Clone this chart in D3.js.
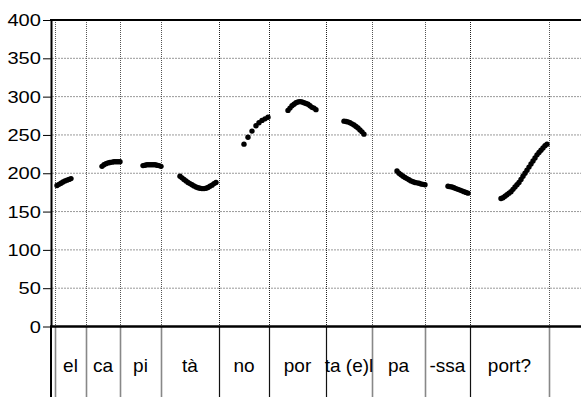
<!DOCTYPE html>
<html lang="en">
<head>
<meta charset="utf-8">
<style>
  body { margin: 0; background: #fff; }
  text { font-family: "Liberation Sans", Arial, sans-serif; fill: #000; }
</style>
</head>
<body>
<script src="https://d3js.org/d3.v7.min.js"></script>
<script>
    var width = 581, height = 397;

    // pitch track (Hz) per syllable, time in ms
    var elF0 = [[25, 184], [35, 185.5], [45, 187], [55, 188.5], [65, 190], [75, 191], [85, 192], [95, 193]];
    var caF0 = [[250, 209], [260, 211], [270, 212.5], [280, 213.5], [290, 214], [300, 214.5], [310, 215], [320, 215], [330, 215], [340, 215]];
    var piF0 = [[455, 210], [465, 210.5], [475, 211], [485, 211], [495, 211], [505, 211], [515, 211], [525, 210.5], [535, 210], [545, 209]];
    var taF0 = [[640, 196], [650, 194], [660, 192], [670, 190], [680, 188], [690, 186.5], [700, 185], [710, 183.5], [720, 182],
        [730, 181], [740, 180.5], [750, 180], [760, 180], [770, 180.5], [780, 181.5], [790, 183], [800, 184.5], [810, 186.5], [820, 188]];
    var noF0 = [[960, 238], [980, 247], [1000, 255], [1020, 262], [1035, 266], [1050, 269], [1065, 271], [1080, 273]];
    var porF0 = [[1180, 282], [1190, 285], [1200, 288], [1210, 290], [1220, 292], [1230, 293], [1240, 293.5], [1250, 293],
        [1260, 292], [1270, 291], [1280, 290], [1290, 288], [1300, 286], [1310, 285], [1320, 283]];
    var taeF0 = [[1460, 268], [1470, 267.5], [1480, 267], [1490, 266], [1500, 264.5], [1510, 263], [1520, 261], [1530, 259],
        [1540, 256.5], [1550, 254], [1560, 251]];
    var paF0 = [[1725, 203], [1735, 200], [1745, 198], [1755, 196], [1765, 194.5], [1775, 193], [1785, 191.5], [1795, 190],
        [1805, 189], [1815, 188], [1825, 187.5], [1835, 187], [1845, 186], [1855, 185.5], [1865, 185]];
    var ssaF0 = [[1980, 183], [1990, 182.5], [2000, 182], [2010, 181], [2020, 180], [2030, 179], [2040, 178], [2050, 177],
        [2060, 176], [2070, 175], [2080, 174]];
    var portF0 = [[2245, 167], [2255, 168], [2265, 170], [2275, 172], [2285, 174], [2295, 176], [2305, 179], [2315, 182],
        [2325, 185], [2335, 188], [2345, 192], [2355, 196], [2365, 200], [2375, 204], [2385, 208], [2395, 212],
        [2405, 216], [2415, 220], [2425, 224], [2435, 227], [2445, 230], [2455, 233], [2465, 236], [2475, 238]];

    var tracks = [elF0, caF0, piF0, taF0, noF0, porF0, taeF0, paF0, ssaF0, portF0];

    // syllable tier
    var boundaries = [15, 170, 340, 545, 835, 1085, 1370, 1600, 1865, 2090, 2485];
    var syllables = ['el', 'ca', 'pi', 'tà', 'no', 'por', 'ta (e)l', 'pa', '-ssa', 'port?'];
    var boundaryDark = [false, false, false, false, true, true, true, false, false, true, false];

    var yTicks = [0, 50, 100, 150, 200, 250, 300, 350, 400];
    var timeEnd = 2645;

    var x = d3.scaleLinear().domain([0, timeEnd]).range([52, 581]);
    var y = d3.scaleLinear().domain([0, 400]).range([326.5, 20]);

    var svg = d3.select('body').append('svg').attr('width', width).attr('height', height);

    // horizontal grid
    svg.append('g')
        .selectAll('line')
        .data(yTicks.filter(function (d) { return d > 0 && d < 400; }))
        .join('line')
        .attr('x1', 52).attr('x2', width)
        .attr('y1', function (d) { return y(d); })
        .attr('y2', function (d) { return y(d); })
        .attr('stroke', '#999')
        .attr('stroke-dasharray', '2,1');

    // vertical dotted lines in the plot
    svg.append('g')
        .selectAll('line')
        .data(boundaries)
        .join('line')
        .attr('x1', function (d) { return Math.round(x(d)) + 0.5; })
        .attr('x2', function (d) { return Math.round(x(d)) + 0.5; })
        .attr('y1', y(400)).attr('y2', y(0))
        .attr('stroke', function (d, i) { return boundaryDark[i] ? '#222' : '#555'; })
        .attr('stroke-dasharray', '1,1');

    // solid lines in the tier below
    svg.append('g')
        .selectAll('line')
        .data(boundaries)
        .join('line')
        .attr('x1', function (d) { return Math.round(x(d)) + 0.5; })
        .attr('x2', function (d) { return Math.round(x(d)) + 0.5; })
        .attr('y1', y(0)).attr('y2', height)
        .attr('stroke', function (d, i) { return boundaryDark[i] ? '#111' : '#888'; })
        .attr('stroke-width', function (d, i) { return boundaryDark[i] ? 1.2 : 1.6; });

    // y axis
    var yAxis = d3.axisLeft(y).tickValues(yTicks).tickSize(8).tickSizeOuter(0).tickPadding(1);
    var ag = svg.append('g').attr('transform', 'translate(51,0)').call(yAxis);
    ag.select('.domain').attr('stroke', '#000').attr('stroke-width', 2);
    ag.selectAll('.tick line').attr('stroke', '#000');
    ag.selectAll('.tick text')
        .attr('font-size', 17)
        .attr('font-family', '"Liberation Sans", Arial, sans-serif')
        .attr('fill', '#000')
        .attr('dy', null)
        .attr('transform', 'translate(-1,5.5) scale(1.18,1)')
        .attr('x', -8 / 1.18 - 1)
        .style('dominant-baseline', 'auto');

    // axis continues down through the tier
    svg.append('line')
        .attr('x1', 51).attr('x2', 51)
        .attr('y1', y(0)).attr('y2', height)
        .attr('stroke', '#000').attr('stroke-width', 2);

    // top and zero lines
    svg.append('g')
        .selectAll('line')
        .data([400, 0])
        .join('line')
        .attr('x1', 50).attr('x2', width)
        .attr('y1', function (d) { return y(d); })
        .attr('y2', function (d) { return y(d); })
        .attr('stroke', '#000')
        .attr('stroke-width', function (d) { return d === 0 ? 2.5 : 2; });

    // syllable labels
    svg.append('g')
        .selectAll('text')
        .data(syllables)
        .join('text')
        .attr('transform', function (d, i) {
            var cx = (x(boundaries[i]) + x(boundaries[i + 1])) / 2;
            return 'translate(' + cx + ',372)';
        })
        .attr('text-anchor', 'middle')
        .attr('font-size', 19)
        .text(function (d) { return d; });

    // pitch points
    svg.append('g')
        .selectAll('g')
        .data(tracks)
        .join('g')
        .selectAll('circle')
        .data(function (d) { return d; })
        .join('circle')
        .attr('cx', function (d) { return x(d[0]); })
        .attr('cy', function (d) { return y(d[1]); })
        .attr('r', 2.7)
        .attr('fill', '#000');
</script>
</body>
</html>
